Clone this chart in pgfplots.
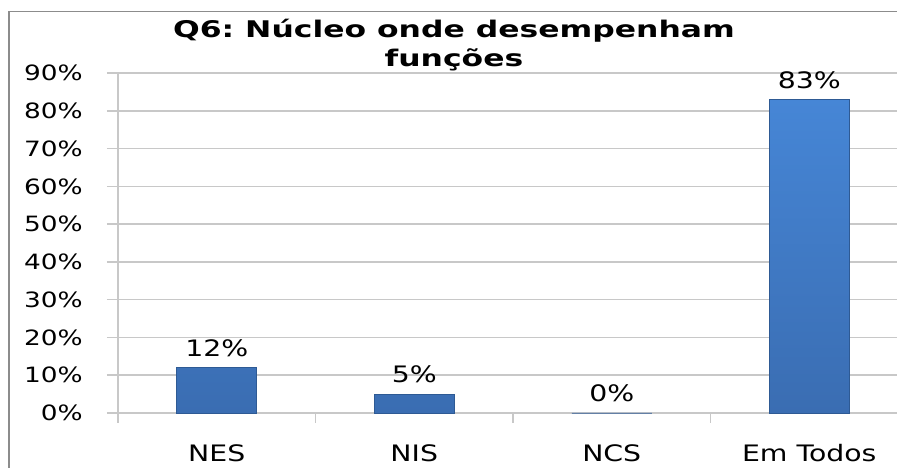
\documentclass[border=0pt]{standalone}
\usepackage{fontspec}
\setmainfont{DejaVu Sans}[FakeStretch=1.25]
\newfontfamily\titlefont{DejaVu Sans}[FakeStretch=1.37]
\usepackage{pgfplots}
\pgfplotsset{compat=1.18}
\frenchspacing

\definecolor{gridgray}{HTML}{C8C8C8}
\definecolor{framegray}{HTML}{8C8C8C}
\definecolor{bartop}{HTML}{4686D6}
\definecolor{barbot}{HTML}{3A6DB2}
\definecolor{baredge}{HTML}{2E5A94}

\begin{document}
\begin{tikzpicture}[x=0.75pt,y=0.75pt]
% picture is 897 x 468 px, 1px = 0.75pt
\path[use as bounding box] (0,0) rectangle (897,468);
\clip (0,0) rectangle (897,468);
\draw[framegray, line width=1.2pt] (9,-20) -- (9,456.5) -- (920,456.5);

\begin{axis}[
    at={(88.5pt,41.25pt)}, anchor=south west,
    width=592.5pt, height=255pt, scale only axis,
    xmin=0.5, xmax=4.5,
    ymin=0, ymax=90,
    axis x line*=bottom, axis y line*=left,
    axis line style={gridgray, line width=1.1pt, -},
    xtick={1,2,3,4},
    xticklabels={NES,NIS,NCS,Em Todos},
    xtick style={draw=none},
    xticklabel style={font=\fontsize{17}{20}\selectfont, anchor=base, inner sep=0pt, yshift=-28.5pt},
    extra x ticks={0.5,1.5,2.5,3.5,4.5},
    extra x tick labels={},
    extra x tick style={xtick style={draw=gridgray, line width=1pt}, major tick length=7.5pt, xtick align=outside, grid=none},
    ytick={0,10,...,90},
    yticklabels={0\%,10\%,20\%,30\%,40\%,50\%,60\%,70\%,80\%,90\%},
    ytick align=outside,
    ytick style={draw=gridgray, line width=1.1pt},
    major tick length=8.25pt,
    yticklabel style={font=\fontsize{15.8}{18}\selectfont, anchor=east, inner sep=0pt, xshift=-18pt},
    ymajorgrids,
    grid style={gridgray, line width=1.1pt},
    ybar, bar width=60pt,
    nodes near coords={\pgfmathprintnumber[assume math mode=true]{\pgfplotspointmeta}\%},
    every node near coord/.append style={font=\fontsize{17}{20}\selectfont, anchor=base, inner sep=0pt, yshift=8.5pt, black},
    clip=false,
]
\addplot[ybar, top color=bartop, bottom color=barbot, draw=baredge, line width=0.5pt]
    coordinates {(1,12) (2,5) (3,0) (4,83)};
\end{axis}

\node[anchor=base, inner sep=0pt] at (454,430.5) {\titlefont\bfseries\fontsize{17.2}{20}\selectfont Q6: Núcleo onde desempenham};
\node[anchor=base, inner sep=0pt] at (454,401) {\titlefont\bfseries\fontsize{17.2}{20}\selectfont funções};
\end{tikzpicture}
\end{document}
